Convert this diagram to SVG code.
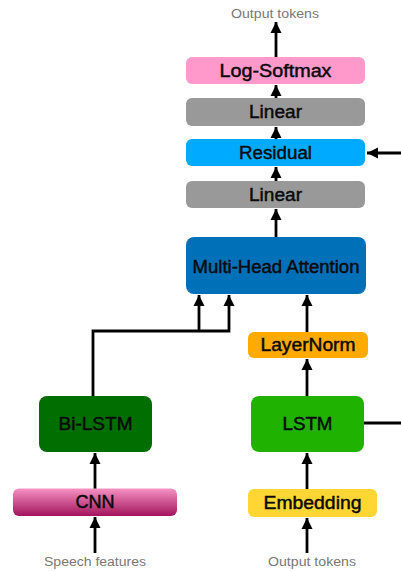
<svg xmlns="http://www.w3.org/2000/svg" width="401" height="571" viewBox="0 0 401 571">
<style>
.lbl{font-family:"Liberation Sans",Arial,sans-serif;font-size:17.5px;fill:#0a0a0a;stroke:#0a0a0a;stroke-width:0.45;text-anchor:middle}
.io{font-family:"Liberation Sans",Arial,sans-serif;font-size:12px;fill:#777;text-anchor:middle}
.c{fill:none;stroke:#000;stroke-width:2.8}
</style>
<defs>
<marker id="ah" markerUnits="userSpaceOnUse" markerWidth="12" markerHeight="12" viewBox="0 0 12 12" refX="11" refY="6" orient="auto">
<path d="M0,0.5 L11,6 L0,11.5 Z" fill="#000"/>
</marker>
<linearGradient id="cnnG" x1="0" y1="0" x2="0" y2="1">
<stop offset="0" stop-color="#F592C3"/>
<stop offset="1" stop-color="#A2145C"/>
</linearGradient>
</defs>
<rect width="401" height="571" fill="#fff"/>
<g id="connectors">
<path class="c" d="M276,57 V22" marker-end="url(#ah)"/>
<path class="c" d="M276,98 V85" marker-end="url(#ah)"/>
<path class="c" d="M276,139 V127" marker-end="url(#ah)"/>
<path class="c" d="M276,181 V167" marker-end="url(#ah)"/>
<path class="c" d="M276,237 V209" marker-end="url(#ah)"/>
<path class="c" d="M401,153 H367" marker-end="url(#ah)"/>
<path class="c" d="M93,396 V331 H229 V295" marker-end="url(#ah)"/>
<path class="c" d="M199,331 V295" marker-end="url(#ah)"/>
<path class="c" d="M307,332 V295" marker-end="url(#ah)"/>
<path class="c" d="M307,396 V359" marker-end="url(#ah)"/>
<path class="c" d="M364,423 H401"/>
<path class="c" d="M95,489 V453" marker-end="url(#ah)"/>
<path class="c" d="M307,489 V453" marker-end="url(#ah)"/>
<path class="c" d="M95,553 V517" marker-end="url(#ah)"/>
<path class="c" d="M307,553 V518" marker-end="url(#ah)"/>
</g>
<g id="out-top"><text class="io" x="275" y="18" textLength="88" lengthAdjust="spacingAndGlyphs">Output tokens</text></g>
<g id="logsoftmax"><rect x="186" y="57" width="179" height="27" rx="6" fill="#FF99CC"/><text class="lbl" x="275.5" y="77" textLength="112" lengthAdjust="spacingAndGlyphs">Log-Softmax</text></g>
<g id="linear1"><rect x="186" y="98" width="179" height="28" rx="6" fill="#999999"/><text class="lbl" x="275.5" y="118" textLength="53" lengthAdjust="spacingAndGlyphs">Linear</text></g>
<g id="residual"><rect x="186" y="139" width="179" height="27" rx="6" fill="#00AAFF"/><text class="lbl" x="275.5" y="159" textLength="73" lengthAdjust="spacingAndGlyphs">Residual</text></g>
<g id="linear2"><rect x="186" y="181" width="179" height="27" rx="6" fill="#999999"/><text class="lbl" x="275.5" y="201" textLength="53" lengthAdjust="spacingAndGlyphs">Linear</text></g>
<g id="mha"><rect x="186" y="237" width="180" height="57" rx="8" fill="#0071B9"/><text class="lbl" x="276" y="273" textLength="167" lengthAdjust="spacingAndGlyphs">Multi-Head Attention</text></g>
<g id="layernorm"><rect x="248" y="332" width="120" height="26" rx="6" fill="#FFAA00"/><text class="lbl" x="308" y="351" textLength="95" lengthAdjust="spacingAndGlyphs">LayerNorm</text></g>
<g id="bilstm"><rect x="39" y="396" width="113" height="56" rx="8" fill="#006E00"/><text class="lbl" x="95.5" y="430" textLength="74" lengthAdjust="spacingAndGlyphs">Bi-LSTM</text></g>
<g id="lstm"><rect x="251" y="396" width="113" height="56" rx="8" fill="#1FB200"/><text class="lbl" x="307.5" y="430" textLength="50" lengthAdjust="spacingAndGlyphs">LSTM</text></g>
<g id="cnn"><rect x="13" y="488.5" width="164" height="27.5" rx="6" fill="url(#cnnG)"/><text class="lbl" x="95" y="508" textLength="39" lengthAdjust="spacingAndGlyphs">CNN</text></g>
<g id="embedding"><rect x="248" y="489" width="129" height="28" rx="6" fill="#FFD633"/><text class="lbl" x="312.5" y="509" textLength="98" lengthAdjust="spacingAndGlyphs">Embedding</text></g>
<g id="speech"><text class="io" x="95" y="566" textLength="102" lengthAdjust="spacingAndGlyphs">Speech features</text></g>
<g id="out-bottom"><text class="io" x="312" y="566" textLength="88" lengthAdjust="spacingAndGlyphs">Output tokens</text></g>
</svg>
